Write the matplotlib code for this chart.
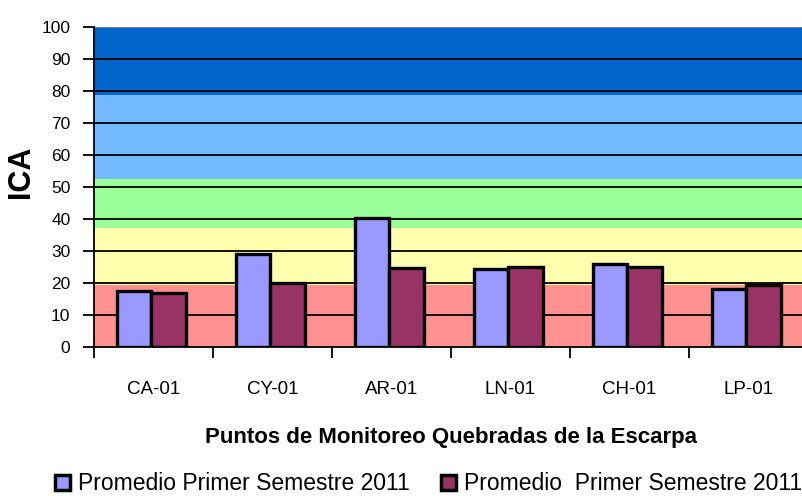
import matplotlib
matplotlib.use("Agg")
import matplotlib.pyplot as plt
from matplotlib.patches import Patch
import numpy as np

plt.rcParams['font.family'] = ['Liberation Sans', 'DejaVu Sans']

categories = ["CA-01", "CY-01", "AR-01", "LN-01", "CH-01", "LP-01"]
serie_1 = [17.5, 28.9, 40.3, 24.2, 25.9, 18.1]
serie_2 = [16.9, 20.0, 24.7, 24.8, 24.8, 19.2]
series_names = ["Promedio Primer Semestre 2011", "Promedio  Primer Semestre 2011"]
series_colors = ["#9999FF", "#993366"]

band_edges = [0, 19.3, 37.2, 52.3, 78.6, 100]
band_colors = ["#FF9191", "#FFFFAD", "#99FF99", "#73B9FF", "#0066CC"]

y_ticks = list(range(0, 101, 10))

W, H = 803, 496
fig = plt.figure(figsize=(W / 100, H / 100), dpi=100)
left, right = 94 / W, 808 / W
bottom, top = 1 - 346.7 / H, 1 - 26.7 / H
ax = fig.add_axes([left, bottom, right - left, top - bottom])

n = len(categories)
ax.set_xlim(0, n)
ax.set_ylim(0, 100)

for i in range(len(band_colors)):
    ax.axhspan(band_edges[i], band_edges[i + 1], color=band_colors[i], zorder=0, lw=0)

for y in y_ticks[1:-1]:
    ax.axhline(y, color="black", lw=1.3, zorder=1)
ax.axhline(100, color="#808080", lw=1.2, zorder=1)

x = np.arange(n) + 0.48
w = 0.29
ax.bar(x - w / 2, serie_1, w, color=series_colors[0], edgecolor="black", lw=2.4, zorder=3)
ax.bar(x + w / 2, serie_2, w, color=series_colors[1], edgecolor="black", lw=2.4, zorder=3)

for s in ["top", "right"]:
    ax.spines[s].set_visible(False)
ax.spines["left"].set_linewidth(1.3)
ax.spines["bottom"].set_linewidth(1.3)

ax.set_yticks(y_ticks)
ax.set_yticklabels([str(v) for v in y_ticks], fontsize=12.5)
ax.tick_params(axis="y", length=8, width=1.3, pad=9, direction="out")

ax.set_xticks(np.arange(n + 1))
ax.set_xticklabels([])
ax.tick_params(axis="x", which="major", length=8, width=1.3, direction="out")
ax.set_xticks(np.arange(n) + 0.5, minor=True)
ax.set_xticklabels(categories, minor=True, fontsize=13.5)
ax.tick_params(axis="x", which="minor", length=0, pad=25)

fig.text(21 / W, 1 - 172 / H, "ICA", rotation=90, ha="center", va="center",
         fontsize=22, fontweight="bold")
fig.text(451 / W, 1 - 437 / H, "Puntos de Monitoreo Quebradas de la Escarpa",
         ha="center", va="center", fontsize=16, fontweight="bold")

handles = [Patch(facecolor=c, edgecolor="black", lw=2.5) for c in series_colors]
fig.legend(handles, series_names, loc="center left", ncol=2,
           bbox_to_anchor=(55 / W, 1 - 484 / H), frameon=False, fontsize=16.5,
           handlelength=0.65, handleheight=0.65, handletextpad=0.35,
           columnspacing=1.35, borderpad=0, borderaxespad=0)

fig.savefig("out.png", dpi=100)
